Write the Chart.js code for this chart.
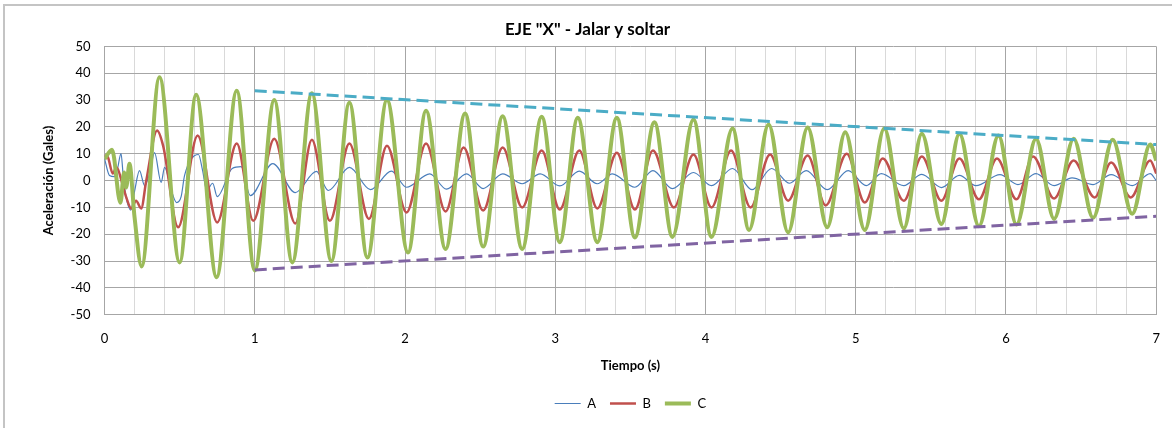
<!DOCTYPE html>
<html>
<head>
	<meta charset="utf-8">
	<title>EJE "X" - Jalar y soltar</title>
	<script src="https://cdn.jsdelivr.net/npm/chart.js@4.4.0/dist/chart.umd.min.js"></script>
	<style type="text/css">
		body{
			margin: 0;
			background: #fff;
		}
		#wrap{
			position: relative;
			width: 1172px;
			height: 428px;
		}
		#frame{
			position: absolute;
			left: 3px;
			top: 4px;
			right: 0;
			bottom: 0;
			border-left: 2px solid #c4c4c4;
			border-top: 2px solid #c4c4c4;
			pointer-events: none;
		}
	</style>
</head>
<body>
<div id="wrap">
	<canvas id="myChart" width="1172" height="428"></canvas>
	<div id="frame"></div>
</div>

<script>
	// tiempo (s) y aceleracion (Gales) de cada registro
	const tiempoA = [0, 0.033, 0.067, 0.085, 0.11, 0.125, 0.144, 0.175, 0.2, 0.233,
		0.267, 0.3, 0.333, 0.377, 0.4, 0.445, 0.48, 0.51, 0.533, 0.625,
		0.653, 0.68, 0.72, 0.75, 0.85, 0.91, 0.97, 1.12, 1.27, 1.41,
		1.49, 1.63, 1.77, 1.91, 2.01, 2.165, 2.276, 2.41, 2.52, 2.65,
		2.78, 2.9, 3.03, 3.16, 3.28, 3.38, 3.53, 3.65, 3.78, 3.92,
		4.04, 4.18, 4.31, 4.44, 4.56, 4.67, 4.81, 4.95, 5.07, 5.17,
		5.32, 5.44, 5.57, 5.69, 5.8, 5.96, 6.08, 6.2, 6.32, 6.44,
		6.58, 6.7, 6.84, 6.96, 7.0];
	const serieA = [8.2, 1.9, 1.5, 4, 10, 1.5, -6.3, -11, -4, 3.7,
		-1.9, 2.6, 10.4, -0.7, 4.9, -3.7, -8.2, -6, 1.9, 9.7,
		3.7, -3.7, -1, -6, 4.5, 5.2, -5.6, 6.3, -4.5, 3.4,
		-3.7, 4.9, -3.4, 3.5, -2.5, 2.5, -3.2, 2.5, -3, 2.5,
		-1.2, 2.5, -2, 3.5, -1.2, 2.5, -2.5, 3.7, -3, 3,
		-1.9, 4.5, -3.4, 4.5, -1, 3.7, -3.4, 3.7, -1.9, 2.6,
		-1.9, 2.3, -2.6, 1.9, -1.9, 2.2, -1.5, 2.6, -1.9, 1,
		-1.5, 2.2, -1.9, 2.6, 0];

	const tiempoB = [0, 0.02, 0.055, 0.08, 0.118, 0.145, 0.178, 0.21, 0.244, 0.278,
		0.35, 0.39, 0.49, 0.62, 0.75, 0.88, 0.99, 1.13, 1.27, 1.38,
		1.50, 1.63, 1.76, 1.88, 2.01, 2.14, 2.27, 2.39, 2.52, 2.65,
		2.78, 2.91, 3.03, 3.16, 3.28, 3.41, 3.53, 3.65, 3.79, 3.92,
		4.04, 4.17, 4.30, 4.43, 4.55, 4.68, 4.80, 4.94, 5.06, 5.18,
		5.32, 5.44, 5.57, 5.69, 5.82, 5.94, 6.07, 6.18, 6.32, 6.45,
		6.59, 6.70, 6.83, 6.96, 7.0];
	const serieB = [9.3, 9, 2.6, 5, -1, -6.3, -10.4, -7.5, -10.4, 0,
		18.7, 13, -17.4, 16.8, -15.6, 13.8, -15, 15.6, -16, 15.2,
		-15, 13.8, -14.3, 13, -11.9, 13.8, -11.5, 12.3, -11.2, 12.3,
		-10, 11.2, -10.8, 11.2, -10.4, 10.4, -10.8, 11.2, -10, 9.7,
		-10, 11.2, -10, 9.7, -7.5, 9.3, -9.3, 10, -8.2, 8.2,
		-7.5, 9, -7.5, 8.2, -7, 8.2, -7, 9, -6.7, 7.5,
		-6.3, 6.7, -6.3, 7.5, 2.6];

	const tiempoC = [0, 0.05, 0.106, 0.13, 0.144, 0.166, 0.2, 0.247, 0.366, 0.50,
		0.61, 0.746, 0.88, 1.00, 1.13, 1.25, 1.38, 1.51, 1.63, 1.75,
		1.88, 2.02, 2.14, 2.27, 2.40, 2.52, 2.65, 2.78, 2.91, 3.03,
		3.15, 3.28, 3.41, 3.53, 3.66, 3.78, 3.92, 4.04, 4.18, 4.29,
		4.42, 4.55, 4.68, 4.81, 4.93, 5.06, 5.19, 5.32, 5.44, 5.57,
		5.69, 5.82, 5.95, 6.07, 6.20, 6.32, 6.45, 6.58, 6.71, 6.84,
		6.96, 7.0];
	const serieC = [8, 11.5, -8.3, 3, -2.6, 6.3, -13.7, -32, 38.5, -30.5,
		32, -36, 33.5, -33.5, 30, -30.5, 32.5, -30, 29, -28.7,
		30, -26.8, 26, -25.5, 25, -24.6, 24, -25.5, 23.8, -23,
		23.4, -23, 23.4, -21.2, 21.7, -21, 22.8, -21, 19.4, -18.4,
		20.9, -19.3, 19.8, -17.4, 18, -18.4, 19.4, -17.8, 17.4, -16.2,
		17.4, -17, 16.8, -16.4, 15.6, -14.3, 15.6, -13.9, 15.2, -12.4,
		13.4, 7.5];

	// envolventes (tendencia) de los picos de C
	const tiempoEnv = [1, 7];
	const envSup = [33.5, 13.4];
	const envInf = [-33.3, -13.3];

	const puntos = (t, v) => t.map((x, i) => ({x: x, y: v[i]}));
	const esEntero = (v) => Math.abs(v - Math.round(v)) < 1e-6;
	const fuente = 'Lato, "Open Sans", sans-serif';

	const serie = (label, t, v, color, ancho, orden) => ({
		label: label,
		data: puntos(t, v),
		borderColor: color,
		backgroundColor: color,
		borderWidth: ancho,
		pointRadius: 0,
		cubicInterpolationMode: 'monotone',
		order: orden
	});

	const envolvente = (v, color) => ({
		label: '',
		data: puntos(tiempoEnv, v),
		borderColor: color,
		borderWidth: 3,
		borderDash: [12, 6],
		pointRadius: 0,
		order: 0
	});

	let ctx = document.getElementById("myChart").getContext('2d');
	let myChart = new Chart(ctx, {
		type: 'line',
		data: {
			datasets: [
				serie('A', tiempoA, serieA, '#4a7ebb', 1.2, 3),
				serie('B', tiempoB, serieB, '#c0504d', 2.5, 2),
				serie('C', tiempoC, serieC, '#9bbb59', 4, 1),
				envolvente(envSup, '#4bacc6'),
				envolvente(envInf, '#8064a2')
			]
		},
		options: {
			responsive: false,
			animation: false,
			layout: {
				padding: {left: 6, right: 3, top: 0, bottom: 8}
			},
			plugins: {
				tooltip: {enabled: false},
				title: {
					display: true,
					text: 'EJE "X" - Jalar y soltar',
					color: '#000',
					font: {family: fuente, size: 17, weight: 'bold'},
					padding: {top: 19, bottom: 7}
				},
				legend: {
					position: 'bottom',
					fullSize: false,
					labels: {
						color: '#000',
						font: {family: fuente, size: 13},
						usePointStyle: true,
						pointStyle: 'line',
						boxWidth: 26,
						pointStyleWidth: 26,
						padding: 14,
						filter: (item) => item.datasetIndex < 3,
						sort: (a, b) => a.datasetIndex - b.datasetIndex
					}
				}
			},
			scales: {
				x: {
					type: 'linear',
					min: 0,
					max: 7,
					border: {color: '#a6a6a6'},
					grid: {
						drawTicks: false,
						color: (c) => esEntero(c.tick.value) ? '#a6a6a6' : '#d9d9d9'
					},
					ticks: {
						stepSize: 0.2,
						autoSkip: false,
						maxRotation: 0,
						padding: 12,
						color: '#000',
						font: {family: fuente, size: 13, lineHeight: 1.9},
						callback: (v) => esEntero(v) ? Math.round(v) : ''
					},
					title: {
						display: true,
						text: 'Tiempo (s)',
						color: '#000',
						font: {family: fuente, size: 13, weight: 'bold'},
						padding: {top: -5, bottom: 9}
					}
				},
				y: {
					min: -50,
					max: 50,
					border: {color: '#a6a6a6'},
					grid: {drawTicks: false, color: '#a6a6a6'},
					ticks: {
						stepSize: 10,
						padding: 14,
						color: '#000',
						font: {family: fuente, size: 13}
					},
					title: {
						display: true,
						text: 'Aceleración (Gales)',
						color: '#000',
						font: {family: fuente, size: 13, weight: 'bold'},
						padding: {top: 35, bottom: 0}
					}
				}
			}
		}
	});
</script>
</body>
</html>
